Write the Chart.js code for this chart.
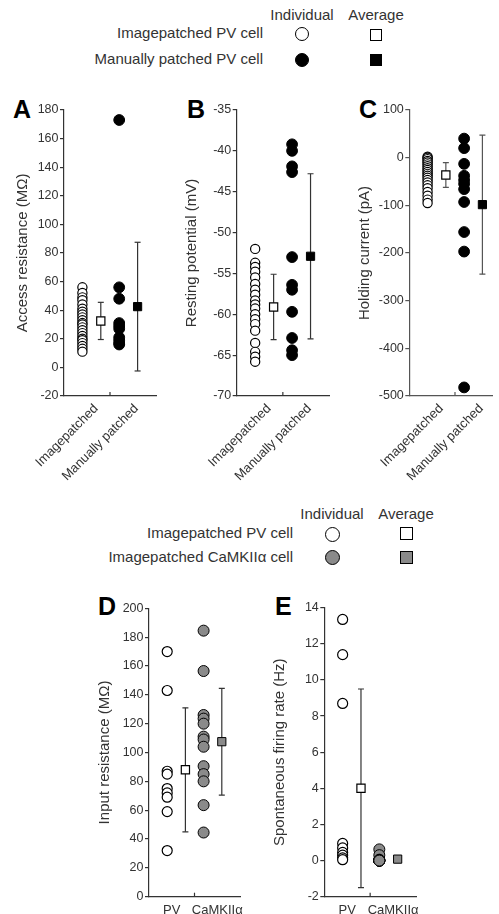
<!DOCTYPE html>
<html>
<head>
<meta charset="utf-8">
<script src="https://cdn.jsdelivr.net/npm/chart.js@4.4.0/dist/chart.umd.min.js"></script>
<style>
body { margin:0; background:#fff; width:499px; height:914px; overflow:hidden; position:relative; font-family:'Liberation Sans', Arial, sans-serif; color:#333; }
canvas { position:absolute; }
.t { position:absolute; font-size:15px; line-height:18px; white-space:nowrap; }
.r { text-align:right; }
.c { text-align:center; }
.L { position:absolute; font-weight:bold; font-size:25px; line-height:25px; color:#000; }
.m { position:absolute; box-sizing:border-box; border:1.3px solid #000; background:#fff; }
.o { border-radius:50%; }
</style>
</head>
<body>

<!-- legend, top -->
<div class="t c" style="left:262px;top:6px;width:80px">Individual</div>
<div class="t c" style="left:336px;top:6px;width:80px">Average</div>
<div class="t r" style="left:0;top:24px;width:263px">Imagepatched PV cell</div>
<div class="t r" style="left:0;top:50px;width:263px">Manually patched PV cell</div>
<div class="m o" style="left:295px;top:27px;width:14px;height:14px"></div>
<div class="m" style="left:370px;top:29px;width:12px;height:12px"></div>
<div class="m o" style="left:295px;top:53px;width:14px;height:14px;background:#000"></div>
<div class="m" style="left:370px;top:54px;width:12px;height:12px;background:#000"></div>

<!-- legend, bottom -->
<div class="t c" style="left:292px;top:505px;width:80px">Individual</div>
<div class="t c" style="left:366px;top:505px;width:80px">Average</div>
<div class="t r" style="left:0;top:524px;width:293px">Imagepatched PV cell</div>
<div class="t r" style="left:0;top:548px;width:293px">Imagepatched CaMKIIα cell</div>
<div class="m o" style="left:325px;top:527px;width:15px;height:15px"></div>
<div class="m" style="left:400px;top:527px;width:13px;height:13px"></div>
<div class="m o" style="left:325px;top:550px;width:15px;height:15px;background:#8a8a8a"></div>
<div class="m" style="left:400px;top:551px;width:13px;height:13px;background:#8a8a8a"></div>

<div class="L" style="left:13px;top:97px">A</div>
<div class="L" style="left:187px;top:97px">B</div>
<div class="L" style="left:359px;top:97px">C</div>
<div class="L" style="left:98px;top:594px">D</div>
<div class="L" style="left:275px;top:594px">E</div>

<canvas id="cA" width="163" height="396" style="left:0;top:90px"></canvas>
<canvas id="cB" width="166" height="396" style="left:170px;top:90px"></canvas>
<canvas id="cC" width="159" height="396" style="left:340px;top:90px"></canvas>
<canvas id="cD" width="167" height="337" style="left:80px;top:590px"></canvas>
<canvas id="cE" width="165" height="337" style="left:258px;top:590px"></canvas>

<script>
// group labels
const labelsTop = ['Imagepatched', 'Manually patched'];
const labelsBottom = ['PV', 'CaMKIIα'];

// A: access resistance (MΩ)
const accImage = [56, 52, 49, 47, 44, 41, 39, 37, 35, 33, 31, 30, 28, 26, 24, 22, 20, 19, 17, 15, 13, 11];
const accManual = [173, 56, 48, 31, 29, 27, 21, 19, 17, 16];
const accMean = [32.5, 42.5];
const accSd = [13, 45];
const accTicks = [-20, 0, 20, 40, 60, 80, 100, 120, 140, 160, 180];

// B: resting potential (mV)
const restImage = [-52, -53.7, -54.2, -54.8, -55.5, -56.3, -57, -57.6, -58.3, -58.8, -59.3, -60, -60.6, -61.2, -62, -63.5, -64.6, -65.2, -65.8];
const restManual = [-39.2, -40, -41.9, -42.6, -53, -56.4, -57, -59.7, -62.9, -64.4, -65];
const restMean = [-59.1, -52.9];
const restSd = [4, 10.1];
const restTicks = [-70, -65, -60, -55, -50, -45, -40, -35];

// C: holding current (pA)
const holdImage = [2, 0, -3, -7, -10, -14, -18, -22, -26, -30, -34, -38, -42, -47, -52, -58, -64, -72, -80, -88, -95];
const holdManual = [40, 20, -13, -38, -47, -55, -66, -93, -156, -197, -482];
const holdMean = [-36.5, -98.5];
const holdSd = [26, 146];
const holdTicks = [-500, -400, -300, -200, -100, 0, 100];

// D: input resistance (MΩ)
const inPV = [170, 143, 87, 85, 75, 72, 69, 59, 32];
const inCaM = [184.5, 156.5, 126, 123.5, 120, 111, 109, 104, 90.5, 85, 80, 63.5, 44.5];
const inMean = [88, 107.5];
const inSd = [43, 37];
const inTicks = [0, 20, 40, 60, 80, 100, 120, 140, 160, 180, 200];

// E: spontaneous firing rate (Hz)
const firePV = [13.35, 11.4, 8.7, 0.95, 0.7, 0.45, 0.3, 0.15, 0.05];
const fireCaM = [0.62, 0.3, 0.05, 0, 0, 0, 0, 0, 0, 0];
const fireMean = [4, 0.08];
const fireSd = [5.5, 0.15];
const fireTicks = [-2, 0, 2, 4, 6, 8, 10, 12, 14];

const FONT = "'Liberation Sans', Arial, sans-serif";
Chart.defaults.font.family = FONT;

// small inward tick between the two groups
const midTick = {
	id: 'midTick',
	afterDraw(chart) {
		const x = chart.scales.x;
		const ctx = chart.ctx;
		const px = x.getPixelForValue(2);
		ctx.save();
		ctx.strokeStyle = chart.options.scales.x.border.color;
		ctx.lineWidth = 1.2;
		ctx.beginPath();
		ctx.moveTo(px, x.top);
		ctx.lineTo(px, x.top - 4);
		ctx.stroke();
		ctx.restore();
	},
};

function errBar(x, m, s, color) {
	return {
		type: 'line',
		data: [{ x: x, y: m - s }, { x: x, y: m + s }],
		borderColor: color,
		borderWidth: 1.2,
		pointStyle: 'line',
		pointRadius: 3,
		pointBorderColor: color,
		pointBorderWidth: 1.2,
		fill: false,
		order: 2,
	};
}

function makePanel(id, o) {
	const pts = (arr, x) => arr.map((v) => ({ x: x, y: v }));
	const datasets = [
		{
			data: pts(o.g1, 0.8),
			pointRadius: o.r1,
			pointBackgroundColor: '#fff',
			pointBorderColor: '#000',
			pointBorderWidth: 1.2,
			order: 3,
		},
		{
			data: pts(o.g2, 2.4),
			pointRadius: o.r2,
			pointBackgroundColor: o.fill2,
			pointBorderColor: '#000',
			pointBorderWidth: 1,
			order: 3,
		},
		errBar(1.6, o.mean[0], o.sd[0], o.axis),
		errBar(3.2, o.mean[1], o.sd[1], o.axis),
		{
			data: [{ x: 1.6, y: o.mean[0] }],
			pointStyle: 'rect',
			pointRadius: 5.8,
			pointBackgroundColor: '#fff',
			pointBorderColor: '#000',
			pointBorderWidth: 1.2,
			order: 0,
		},
		{
			data: [{ x: 3.2, y: o.mean[1] }],
			pointStyle: 'rect',
			pointRadius: 5.8,
			pointBackgroundColor: o.fill2,
			pointBorderColor: '#000',
			pointBorderWidth: 1,
			order: 0,
		},
	];
	return new Chart(document.getElementById(id), {
		type: 'scatter',
		data: { datasets },
		options: {
			responsive: false,
			animation: false,
			layout: { padding: { top: o.padTop, left: 0, right: 0, bottom: 0 } },
			plugins: { legend: { display: false }, tooltip: { enabled: false } },
			scales: {
				x: {
					type: 'linear',
					min: 0,
					max: o.xMax,
					afterBuildTicks: (s) => {
						s.ticks = o.labelAt.map((v) => ({ value: v }));
					},
					afterFit: (s) => {
						s.height = o.xh;
						s.paddingLeft = 0;
						s.paddingRight = 0;
					},
					grid: { drawOnChartArea: false, tickLength: 4, tickColor: 'transparent' },
					border: { color: o.axis, width: 1.2 },
					ticks: {
						autoSkip: false,
						minRotation: o.rot,
						maxRotation: o.rot,
						padding: o.xpad,
						color: '#333',
						font: { size: 13 },
						callback: (v, i) => o.labels[i],
					},
				},
				y: {
					type: 'linear',
					min: o.ticks[0],
					max: o.ticks[o.ticks.length - 1],
					afterBuildTicks: (s) => {
						s.ticks = o.ticks.map((v) => ({ value: v }));
					},
					afterFit: (s) => {
						s.width = o.yw;
					},
					grid: { drawOnChartArea: false, tickLength: 4, color: o.axis, lineWidth: 1.2 },
					border: { color: o.axis, width: 1.2 },
					ticks: { padding: 1.5, color: '#333', font: { size: 12.5 } },
					title: {
						display: true,
						text: o.title,
						color: '#333',
						font: { size: 15 },
						padding: { top: o.tpad, bottom: 0 },
					},
				},
			},
		},
		plugins: [midTick],
	});
}

const top3 = { padTop: 20, xh: 90, rot: 45, xpad: 1, labelAt: [1.4, 3.15], labels: labelsTop, fill2: '#000', r1: 4.6, r2: 5.4 };
const bot2 = { xh: 30.3, rot: 0, xpad: 2, labelAt: [1, 3], labels: labelsBottom, fill2: '#8a8a8a', r1: 5, r2: 5.5, xMax: 4 };

makePanel('cA', Object.assign({}, top3, {
	g1: accImage, g2: accManual, mean: accMean, sd: accSd, ticks: accTicks,
	title: 'Access resistance (MΩ)', yw: 64, tpad: 14, xMax: 4, axis: '#333',
}));
makePanel('cB', Object.assign({}, top3, {
	g1: restImage, g2: restManual, mean: restMean, sd: restSd, ticks: restTicks,
	title: 'Resting potential (mV)', yw: 66.7, tpad: 13.3, xMax: 4, axis: '#333',
}));
makePanel('cC', Object.assign({}, top3, {
	g1: holdImage, g2: holdManual, mean: holdMean, sd: holdSd, ticks: holdTicks,
	title: 'Holding current (pA)', yw: 69.3, tpad: 16, xMax: 3.62, axis: '#555',
}));
makePanel('cD', Object.assign({}, bot2, {
	g1: inPV, g2: inCaM, mean: inMean, sd: inSd, ticks: inTicks,
	title: 'Input resistance (MΩ)', yw: 69, tpad: 16, padTop: 18.3, axis: '#333',
}));
makePanel('cE', Object.assign({}, bot2, {
	g1: firePV, g2: fireCaM, mean: fireMean, sd: fireSd, ticks: fireTicks,
	title: 'Spontaneous firing rate (Hz)', yw: 66.3, tpad: 13, padTop: 17.7, axis: '#333',
}));
</script>
</body>
</html>
